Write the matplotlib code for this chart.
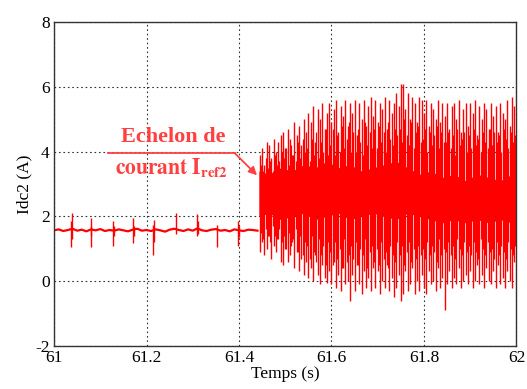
import numpy as np
import matplotlib
matplotlib.use("Agg")
import matplotlib.pyplot as plt

plt.rcParams['font.family'] = ['Liberation Serif', 'DejaVu Serif']
plt.rcParams['mathtext.fontset'] = 'stix'
plt.rcParams['axes.unicode_minus'] = False

# ---- data ----
# pre-step baseline (every 0.01 s from 61.00 to 61.44)
t_base = np.round(np.arange(61.0, 61.4401, 0.01), 3)
v_base = [1.57, 1.60, 1.55, 1.58, 1.62, 1.56, 1.59, 1.54, 1.60, 1.57,
          1.61, 1.55, 1.58, 1.56, 1.60, 1.57, 1.54, 1.59, 1.62, 1.56,
          1.58, 1.55, 1.60, 1.57, 1.53, 1.59, 1.62, 1.58, 1.55, 1.60,
          1.56, 1.63, 1.57, 1.55, 1.59, 1.61, 1.56, 1.58, 1.54, 1.60,
          1.57, 1.55, 1.59, 1.58, 1.56]
# isolated spikes before the step
t_spk = [61.036, 61.039, 61.079, 61.081, 61.127, 61.129, 61.170, 61.172,
         61.213, 61.216, 61.264, 61.310, 61.312, 61.352, 61.397, 61.399]
up_spk = [1.85, 2.10, 1.94, 1.70, 1.85, 1.70, 1.94, 1.70,
          1.75, 1.90, 2.10, 2.07, 1.85, 1.75, 1.85, 1.70]
dn_spk = [1.05, 1.30, 1.07, 1.40, 1.10, 1.40, 1.17, 1.40,
          0.80, 1.20, 1.45, 1.40, 1.45, 1.07, 1.10, 1.35]

# large oscillation peaks after the current step (every 0.005 s from 61.445)
t_osc = np.linspace(61.445, 61.995, 111)
hi_osc = [3.9, 4.1, 3.6, 4.3, 4.2, 3.8, 4.4, 4.0, 4.3, 4.5,
          4.6, 4.1, 4.7, 4.4, 3.9, 4.9, 4.5, 4.8, 4.2, 5.0,
          4.6, 5.2, 4.9, 5.4, 4.3, 5.3, 5.0, 5.5, 4.7, 5.2,
          5.5, 4.9, 5.3, 5.6, 4.6, 5.4, 5.1, 5.6, 4.8, 5.5,
          5.2, 5.6, 4.5, 5.5, 5.0, 5.6, 4.8, 5.4, 5.7, 5.1,
          5.6, 4.9, 5.5, 5.3, 5.7, 4.7, 5.6, 5.2, 5.5, 5.8,
          5.4, 6.1, 6.1, 5.3, 5.8, 5.0, 5.7, 5.5, 4.9, 5.7,
          5.6, 5.2, 5.6, 4.8, 5.5, 5.3, 5.0, 5.6, 4.9, 5.5,
          5.1, 5.5, 4.7, 5.4, 5.5, 5.0, 5.6, 4.6, 5.3, 5.5,
          4.8, 5.5, 5.2, 5.6, 4.5, 5.4, 5.0, 5.5, 5.3, 4.7,
          5.5, 5.1, 5.4, 4.6, 5.5, 5.2, 5.0, 5.6, 4.8, 5.7, 5.4]
lo_osc = [0.9, 1.2, 0.8, 1.0, 1.4, 0.7, 1.1, 0.9, 1.3, 0.6,
          0.5, 1.0, 0.6, 0.8, 1.2, 0.4, 0.9, 0.3, 0.7, 0.2,
          0.6, 0.1, 0.4, 0.0, 0.8, 0.2, -0.1, 0.5, 0.1, -0.05,
          0.3, -0.1, 0.6, -0.2, 0.2, -0.3, 0.4, -0.1, 0.0, -0.6,
          0.2, -0.3, 0.5, -0.1, -0.4, 0.3, -0.2, 0.1, -0.3, 0.4,
          -0.2, 0.3, -0.4, 0.0, -0.2, 0.5, -0.3, 0.1, -0.5, -0.2,
          0.2, -0.6, -0.4, 0.3, -0.3, -0.1, 0.4, -0.4, 0.0, -0.3,
          0.2, -0.2, -0.4, 0.3, -0.1, 0.0, -0.3, 0.4, -0.2, 0.1,
          -0.9, -0.1, 0.3, -0.2, 0.1, -0.1, 0.4, -0.2, 0.0, 0.2,
          -0.1, 0.3, -0.2, 0.0, 0.5, -0.1, 0.2, -0.2, 0.4, 0.0,
          -0.1, 0.3, -0.2, 0.5, -0.1, 0.1, -0.2, 0.3, 0.0, -0.2, 0.6]
# medium oscillation peaks, between the large ones
t_mid = np.linspace(61.4475, 61.9975, 111)
hi_mid = [3.6, 3.4, 3.8, 3.5, 3.7, 3.4, 3.9, 3.6, 3.7, 4.0,
          3.8, 4.1, 3.6, 4.2, 3.9, 3.7, 4.3, 3.8, 4.4, 4.0,
          4.1, 3.7, 4.4, 3.9, 4.6, 3.8, 4.3, 4.0, 4.7, 3.9,
          4.2, 4.7, 3.9, 4.5, 4.0, 4.8, 4.1, 4.4, 4.9, 4.0,
          4.6, 4.0, 4.7, 4.3, 3.9, 4.9, 4.2, 4.6, 4.1, 4.7,
          4.1, 4.8, 4.3, 4.6, 4.0, 4.9, 4.4, 4.2, 4.7, 4.5,
          4.7, 4.3, 5.0, 4.5, 4.2, 4.9, 4.1, 4.6, 4.8, 4.3,
          4.4, 4.7, 4.0, 4.6, 4.2, 4.5, 4.8, 4.1, 4.6, 4.3,
          4.3, 4.6, 4.1, 4.5, 3.9, 4.7, 4.2, 4.4, 4.6, 4.0,
          4.5, 4.1, 4.7, 4.2, 4.4, 4.0, 4.6, 4.3, 4.1, 4.7,
          4.2, 4.6, 4.3, 4.5, 4.0, 4.7, 4.4, 4.1, 4.6, 4.3, 4.5]
lo_mid = [1.5, 1.3, 1.6, 1.4, 1.2, 1.7, 1.4, 1.3, 1.6, 1.2,
          1.4, 1.0, 1.5, 1.1, 1.3, 1.6, 0.9, 1.4, 0.8, 1.2,
          1.1, 0.7, 1.4, 0.9, 0.6, 1.3, 0.8, 1.1, 0.5, 1.2,
          0.9, 0.5, 1.2, 0.7, 1.0, 0.4, 1.3, 0.6, 0.8, 1.1,
          0.7, 1.2, 0.5, 1.0, 0.8, 1.3, 0.4, 0.9, 1.1, 0.6,
          1.0, 0.5, 1.2, 0.7, 0.9, 0.4, 1.1, 0.8, 0.6, 1.2,
          0.8, 1.1, 0.5, 0.9, 1.2, 0.6, 1.0, 0.7, 1.1, 0.8,
          1.0, 0.7, 1.2, 0.8, 1.1, 0.9, 0.6, 1.3, 0.8, 1.0,
          0.9, 1.2, 0.8, 1.1, 0.7, 1.3, 1.0, 0.8, 1.2, 0.9,
          1.1, 0.8, 1.2, 0.9, 0.7, 1.3, 1.0, 0.8, 1.2, 0.9,
          1.0, 0.7, 1.2, 0.8, 1.1, 0.9, 0.7, 1.2, 1.0, 0.8, 1.1]
# dense core band of the oscillation
t_core = [61.443, 61.465, 61.49, 61.515, 61.54, 61.565, 61.59, 61.615,
          61.64, 61.665, 61.69, 61.715, 61.74, 61.765, 61.79, 61.815,
          61.84, 61.865, 61.89, 61.915, 61.94, 61.965, 61.99, 62.0]
core_top = [3.4, 3.3, 3.5, 3.4, 3.6, 3.5, 3.7, 3.5, 3.6, 3.4, 3.5, 3.6,
            3.7, 3.5, 3.3, 3.4, 3.2, 3.3, 3.1, 3.3, 3.2, 3.1, 3.3, 3.2]
core_bot = [2.0, 2.1, 1.9, 2.0, 2.1, 1.9, 2.0, 2.1, 1.9, 2.0, 2.1, 2.0,
            1.9, 2.1, 2.0, 1.9, 1.8, 1.9, 1.8, 1.9, 1.8, 1.9, 1.8, 1.8]

x_ticks = [61, 61.2, 61.4, 61.6, 61.8, 62]
x_ticklabels = ['61', '61.2', '61.4', '61.6', '61.8', '62']
y_ticks = [-2, 0, 2, 4, 6, 8]

# ---- figure ----
fig = plt.figure(figsize=(5.27, 3.89), dpi=100)
ax = fig.add_axes([0.1025, 0.1105, 0.8775, 0.8329])

red = '#ff0000'
ax.plot(t_base, v_base, color=red, lw=1.6)
ax.vlines(t_spk, dn_spk, up_spk, color=red, lw=1.0)
ax.fill_between(t_core, core_bot, core_top, color=red, lw=0)
ax.vlines(t_mid, lo_mid, hi_mid, color=red, lw=0.9)
ax.vlines(t_osc, lo_osc, hi_osc, color=red, lw=1.0)

ax.set_xlim(61, 62)
ax.set_ylim(-2, 8)
ax.set_xticks(x_ticks)
ax.set_xticklabels(x_ticklabels)
ax.set_yticks(y_ticks)
ax.tick_params(direction='in', length=0, labelsize=12.5, pad=3)
ax.grid(True, color='#333333', linestyle=(0, (1.5, 2.5)), lw=0.8)
for s in ax.spines.values():
    s.set_color('#333333')
    s.set_linewidth(1.0)

ax.set_xlabel('Temps (s)', fontsize=12.5, labelpad=0)
ax.set_ylabel('Idc2 (A)', fontsize=12.5, labelpad=2)

acol = '#ff4040'
ax.text(61.257, 4.44, 'Echelon de', color=acol, fontsize=16, fontweight='bold',
        ha='center', va='center')
ax.text(61.255, 3.49, r'$\mathbf{courant\ I_{ref2}}$', color=acol, fontsize=15.5,
        ha='center', va='center')
ax.plot([61.117, 61.391], [3.95, 3.95], color=acol, lw=1.3)
ax.annotate('', xy=(61.439, 3.27), xytext=(61.391, 3.95),
            arrowprops=dict(arrowstyle='-|>', color=acol, lw=1.3,
                            mutation_scale=12, shrinkA=0, shrinkB=0))

fig.savefig('out.png', dpi=100)
